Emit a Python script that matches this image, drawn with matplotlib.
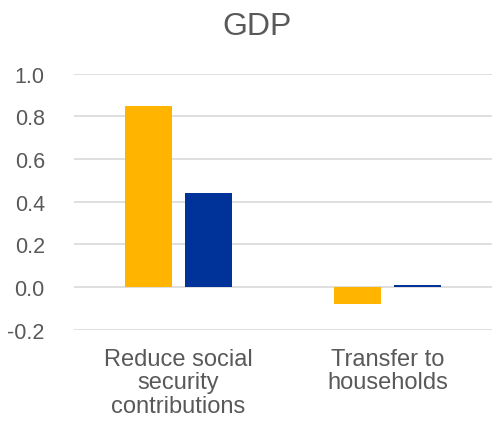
import numpy as np
import matplotlib
matplotlib.use('Agg')
import matplotlib.pyplot as plt

categories = ['Reduce social\nsecurity\ncontributions', 'Transfer to\nhouseholds']
series_a = [0.85, -0.08]
series_b = [0.44, 0.01]
yticks = [-0.2, 0.0, 0.2, 0.4, 0.6, 0.8, 1.0]

plt.rcParams['font.family'] = ['Liberation Sans', 'DejaVu Sans']
txt = '#595959'

fig = plt.figure(figsize=(5, 4.27), dpi=100)
ax = fig.add_axes([0.148, 0.2255, 0.836, 0.5995])

x = np.arange(len(categories))
w = 0.225
off = 0.144
ax.bar(x - off, series_a, w, color='#FFB400', zorder=3)
ax.bar(x + off, series_b, w, color='#003399', zorder=3)

ax.set_xlim(-0.5, 1.5)
ax.set_ylim(-0.2, 1.0)
ax.set_yticks(yticks)
ax.set_yticklabels([f'{v:.1f}' for v in yticks], fontsize=15.5, color=txt)
ax.set_xticks(x)
ax.set_xticklabels(categories, fontsize=17, color=txt, linespacing=1.1)
ax.tick_params(axis='both', length=0)
ax.tick_params(axis='y', pad=21)
ax.tick_params(axis='x', pad=13)
ax.grid(axis='y', color='#D9D9D9', linewidth=1.2, zorder=0)
for s in ax.spines.values():
    s.set_visible(False)

fig.text(0.514, 0.918, 'GDP', ha='center', va='baseline', fontsize=23, color=txt)

fig.savefig('out.png', dpi=100)
